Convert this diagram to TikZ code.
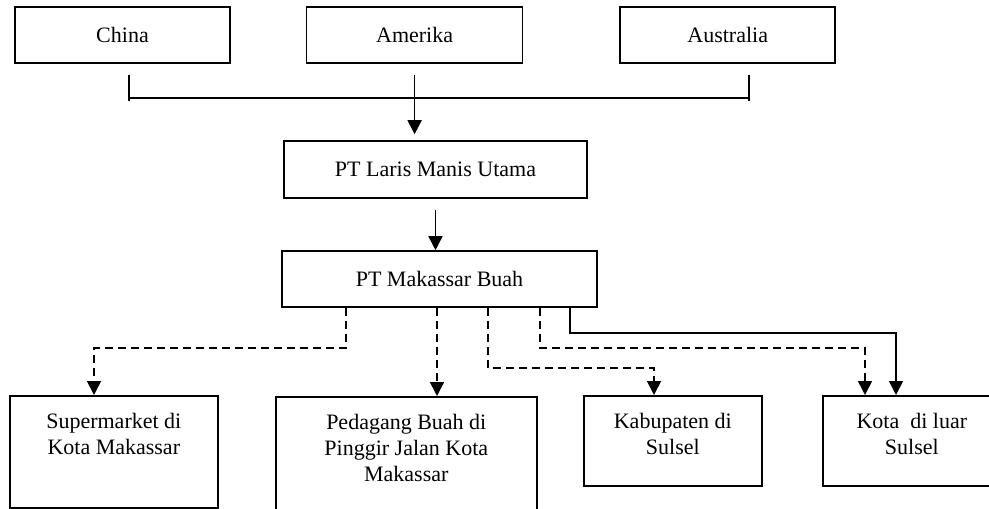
\documentclass[tikz,border=0pt]{standalone}
\usepackage{fontspec}
\setmainfont{Liberation Serif}
\usetikzlibrary{arrows.meta,positioning}

\begin{document}
\begin{tikzpicture}[
    font=\fontsize{11pt}{13pt}\selectfont,
    line width=0.8pt,
    box/.style={draw, minimum height=28pt},
    sink/.style={draw, anchor=north west},
    inner text/.style={anchor=north, align=center, inner sep=0pt, yshift=-8.5pt},
    arrow/.style={-{Triangle[length=7pt,width=7pt]}},
    dash line/.style={dash pattern=on 4pt off 2.5pt}
  ]
  \clip (0,0) rectangle (494.5pt,-254pt);
  % sources
  \node [box, minimum width=107.5pt] (china) at (61.25pt,-17.5pt) {China};
  \node [box, minimum width=108pt, right=37.5pt of china] (amerika) {Amerika};
  \node [box, minimum width=107.5pt, right=48pt of amerika] (australia) {Australia};
  % distributors
  \node [box, minimum width=151.5pt, minimum height=28.5pt] (laris) at (217.75pt,-84.75pt) {PT Laris Manis Utama};
  \node [box, minimum width=157.5pt] (makassar) at (219.75pt,-139.5pt) {PT Makassar Buah};
  % markets
  \node [sink, minimum width=104pt, minimum height=56pt,
    label={[inner text]north:{Supermarket di\\Kota Makassar}}] (super) at (4.5pt,-197.5pt) {};
  \node [sink, minimum width=130.5pt, minimum height=70pt,
    label={[inner text]north:{Pedagang Buah di\\Pinggir Jalan Kota\\Makassar}}] (pedagang) at (137.5pt,-198pt) {};
  \node [sink, minimum width=89pt, minimum height=45pt,
    label={[inner text]north:{Kabupaten di\\Sulsel}}] (kabupaten) at (291.5pt,-197.5pt) {};
  \node [sink, minimum width=89pt, minimum height=45pt,
    label={[inner text]north:{Kota~ di luar\\Sulsel}}] (kota) at (411pt,-197.5pt) {};

  % import bracket
  \coordinate (left tick) at ([xshift=3.25pt,yshift=-5.5pt]china.south);
  \coordinate (right tick) at ([xshift=10.75pt,yshift=-5.5pt]australia.south);
  \draw (left tick) -- ++(0,-13pt);
  \draw (right tick) -- ++(0,-13pt);
  \draw ([yshift=-11.5pt]left tick) -- ([yshift=-11.5pt]right tick);
  \draw [arrow, shorten <=5.5pt, shorten >=3pt] (amerika.south) -- (amerika.south |- laris.north);
  \draw [arrow, shorten <=5.5pt] (laris.south) -- (laris.south |- makassar.north);

  % distribution
  \draw [arrow, dash line] ([xshift=-46.75pt]makassar.south) -- ++(0,-20pt) -| ([xshift=42.5pt]super.north west);
  \draw [arrow, dash line] ([xshift=-1.25pt]makassar.south) -- ([xshift=-1.25pt]makassar.south |- pedagang.north);
  \draw [arrow, dash line] ([xshift=24.25pt]makassar.south) -- ++(0,-30pt) -| ([xshift=35.5pt]kabupaten.north west);
  \draw [arrow, dash line] ([xshift=50.25pt]makassar.south) -- ++(0,-20pt) -| ([xshift=21.5pt]kota.north west);
  \draw [arrow] ([xshift=65.25pt]makassar.south) -- ++(0,-12.5pt) -| ([xshift=37pt]kota.north west);
\end{tikzpicture}
\end{document}
